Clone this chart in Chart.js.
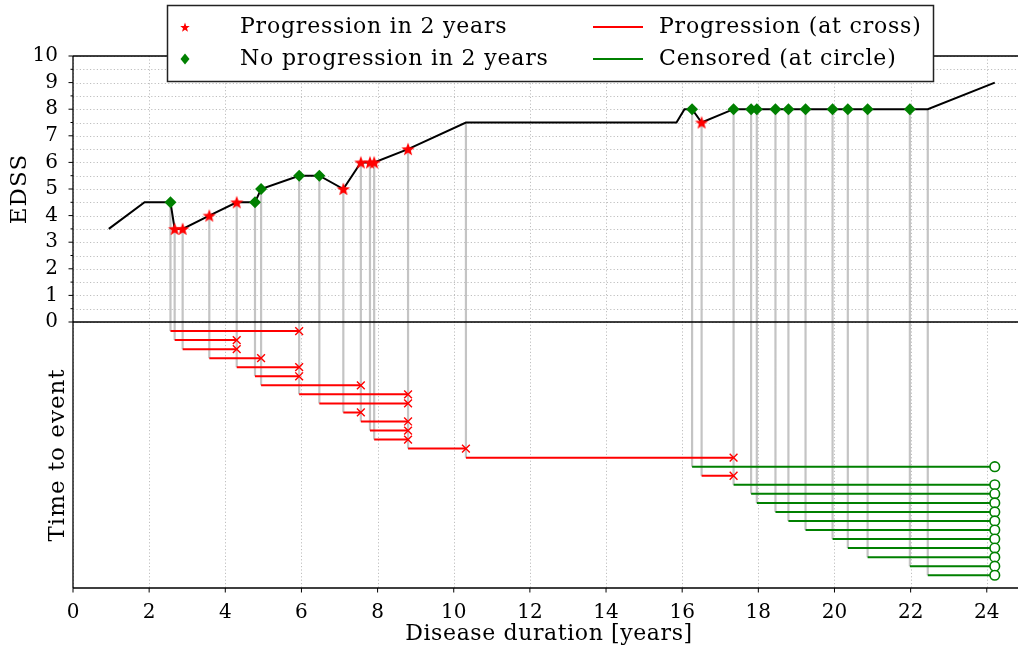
<!DOCTYPE html>
<html>
<head>
<meta charset="utf-8">
<script src="https://cdn.jsdelivr.net/npm/chart.js@4.4.1/dist/chart.umd.min.js"></script>
<style>
  html, body { margin: 0; padding: 0; background: #ffffff; }
  #wrap { width: 1018px; height: 650px; position: relative; }
</style>
</head>
<body>
<div id="wrap"><canvas id="chart"></canvas></div>
<script>
// EDSS trajectory: visit time [years] and EDSS score at that visit
const visitYears = [0.94, 1.88, 2.56, 2.67, 2.88, 3.58, 4.30, 4.78, 4.94, 5.94, 6.47, 7.10, 7.56, 7.80, 7.91, 8.80,
                    10.32, 15.85, 16.06, 16.26, 16.51, 17.35, 17.81, 17.96, 18.45, 18.79, 19.24, 19.95, 20.35, 20.87,
                    21.98, 22.45, 24.21];
const edssScores = [3.5, 4.5, 4.5, 3.5, 3.5, 4.0, 4.5, 4.5, 5.0, 5.5, 5.5, 5.0, 6.0, 6.0, 6.0, 6.5,
                    7.5, 7.5, 8.0, 8.0, 7.5, 8.0, 8.0, 8.0, 8.0, 8.0, 8.0, 8.0, 8.0, 8.0,
                    8.0, 8.0, 9.0];

// Baseline visits by outcome class
const progressionYears = [2.67, 2.88, 3.58, 4.30, 7.10, 7.56, 7.80, 7.91, 8.80, 16.51];
const noProgressionYears = [2.56, 4.78, 4.94, 5.94, 6.47, 16.26, 17.35, 17.81, 17.96, 18.45, 18.79, 19.24,
                            19.95, 20.35, 20.87, 21.98];

// Time-to-event rows (top to bottom): baseline, end of follow-up, outcome (1 = progression, 0 = censored)
const rowStart = [2.56, 2.67, 2.88, 3.58, 4.30, 4.78, 4.94, 5.94, 6.47, 7.10, 7.56, 7.80, 7.91, 8.80,
                  10.32, 16.26, 16.51, 17.35, 17.81, 17.96, 18.45, 18.79, 19.24, 19.95, 20.35, 20.87, 21.98, 22.45];
const rowEnd   = [5.94, 4.30, 4.30, 4.94, 5.94, 5.94, 7.56, 8.80, 8.80, 7.56, 8.80, 8.80, 8.80, 10.32,
                  17.35, 24.21, 17.35, 24.21, 24.21, 24.21, 24.21, 24.21, 24.21, 24.21, 24.21, 24.21, 24.21, 24.21];
const rowEvent = [1, 1, 1, 1, 1, 1, 1, 1, 1, 1, 1, 1, 1, 1,
                  1, 0, 1, 0, 0, 0, 0, 0, 0, 0, 0, 0, 0, 0];

// Axis ticks
const xTickValues = [0, 2, 4, 6, 8, 10, 12, 14, 16, 18, 20, 22, 24];
const yTickValues = [0, 1, 2, 3, 4, 5, 6, 7, 8, 9, 10];

const ROW_STEP = 0.34;          // vertical spacing of the time-to-event rows (axis units)
const FONT = "'DejaVu Serif', serif";
const RED = '#ff0000';
const GREEN = '#008000';

const edssAt = t => edssScores[visitYears.indexOf(t)];
const rowY = i => -(i + 1) * ROW_STEP;

// --- build plotted series ---------------------------------------------------
const trajectory = visitYears.map((t, i) => ({ x: t, y: edssScores[i] }));
const starPts = progressionYears.map(t => ({ x: t, y: edssAt(t) }));
const diamondPts = noProgressionYears.map(t => ({ x: t, y: edssAt(t) }));

const dropLines = [];
const progLines = [];
const censLines = [];
const crossPts = [];
const circlePts = [];
rowStart.forEach((t0, i) => {
  const y = rowY(i);
  dropLines.push({ x: t0, y: edssAt(t0) }, { x: t0, y: y }, { x: t0, y: null });
  const seg = rowEvent[i] ? progLines : censLines;
  seg.push({ x: t0, y: y }, { x: rowEnd[i], y: y }, { x: rowEnd[i], y: null });
  (rowEvent[i] ? crossPts : circlePts).push({ x: rowEnd[i], y: y });
});

// filled five-pointed star used as a point style
function makeStar(r, color) {
  const size = Math.ceil(2 * r + 2);
  const c = document.createElement('canvas');
  c.width = size; c.height = size;
  const g = c.getContext('2d');
  g.fillStyle = color;
  g.beginPath();
  for (let k = 0; k < 10; k++) {
    const a = -Math.PI / 2 + k * Math.PI / 5;
    const rr = (k % 2) ? r * 0.42 : r;
    const px = size / 2 + rr * Math.cos(a);
    const py = size / 2 + 0.6 + rr * Math.sin(a);
    if (k === 0) g.moveTo(px, py); else g.lineTo(px, py);
  }
  g.closePath();
  g.fill();
  return c;
}
const starIcon = makeStar(7, RED);
const legendStar = makeStar(5, RED);

// text with a little extra tracking, closer to the original typesetting
function spacedText(ctx, text, x, y, spacing) {
  ctx.letterSpacing = spacing + 'px';
  ctx.fillText(text, x, y);
  ctx.letterSpacing = '0px';
}

// --- frame, grid, ticks, titles and legend ----------------------------------
const framePlugin = {
  id: 'frame',
  beforeDatasetsDraw(chart) {
    const { ctx, chartArea: a, scales: { x, y } } = chart;
    ctx.save();
    ctx.strokeStyle = '#b8b8b8';
    ctx.lineWidth = 0.9;
    ctx.setLineDash([1.2, 2.2]);
    xTickValues.forEach(v => {
      const px = Math.round(x.getPixelForValue(v)) + 0.5;
      ctx.beginPath(); ctx.moveTo(px, a.top); ctx.lineTo(px, a.bottom); ctx.stroke();
    });
    for (let v = yTickValues[0]; v <= yTickValues[yTickValues.length - 1]; v += 0.5) {
      const py = Math.round(y.getPixelForValue(v)) + 0.5;
      ctx.beginPath(); ctx.moveTo(a.left, py); ctx.lineTo(a.right, py); ctx.stroke();
    }
    ctx.restore();
  },
  afterDatasetsDraw(chart) {
    const { ctx, chartArea: a, scales: { x, y } } = chart;
    ctx.save();
    ctx.strokeStyle = '#000';
    ctx.lineWidth = 1.3;
    ctx.setLineDash([]);
    const y0 = y.getPixelForValue(0);
    ctx.beginPath();
    ctx.moveTo(a.left, y0); ctx.lineTo(a.right, y0);          // zero line
    ctx.moveTo(a.left, a.top); ctx.lineTo(a.right, a.top);    // top spine
    ctx.moveTo(a.left, a.top); ctx.lineTo(a.left, a.bottom);  // left spine
    ctx.moveTo(a.left, a.bottom); ctx.lineTo(a.right, a.bottom); // bottom spine
    ctx.stroke();
    // y tick marks: major at integers, minor at halves
    ctx.lineWidth = 1;
    for (let v = yTickValues[0]; v <= yTickValues[yTickValues.length - 1]; v += 0.5) {
      const py = y.getPixelForValue(v);
      const len = Number.isInteger(v) ? 4.5 : 2.5;
      ctx.beginPath(); ctx.moveTo(a.left - len, py); ctx.lineTo(a.left, py); ctx.stroke();
    }
    xTickValues.forEach(v => {
      const px = x.getPixelForValue(v);
      ctx.beginPath(); ctx.moveTo(px, a.bottom); ctx.lineTo(px, a.bottom + 4.5); ctx.stroke();
    });
    ctx.restore();
  },
  afterDraw(chart) {
    const { ctx, chartArea: a, scales: { y } } = chart;
    ctx.save();
    ctx.fillStyle = '#000';
    ctx.textAlign = 'center';
    ctx.textBaseline = 'middle';
    // axis titles
    ctx.font = '22px ' + FONT;
    spacedText(ctx, 'Disease duration [years]', 549, 634, 0.6);
    const yTop = (y.getPixelForValue(10) + y.getPixelForValue(0)) / 2;
    const yBot = (y.getPixelForValue(0) + y.getPixelForValue(-10)) / 2;
    ctx.font = '23px ' + FONT;
    ctx.save(); ctx.translate(20, yTop); ctx.rotate(-Math.PI / 2); spacedText(ctx, 'EDSS', 0, 0, 1); ctx.restore();
    ctx.save(); ctx.translate(58, yBot); ctx.rotate(-Math.PI / 2); spacedText(ctx, 'Time to event', 0, 0, 1); ctx.restore();

    // legend box
    ctx.fillStyle = '#fff';
    ctx.fillRect(167, 5, 767, 77);
    ctx.strokeStyle = '#222';
    ctx.lineWidth = 1.5;
    ctx.strokeRect(167.5, 5.5, 766, 76);
    const r1 = 27, r2 = 59;
    ctx.drawImage(legendStar, 185 - legendStar.width / 2, r1 - legendStar.height / 2);
    ctx.fillStyle = GREEN;
    ctx.beginPath();
    ctx.moveTo(185, r2 - 5.5); ctx.lineTo(189.5, r2); ctx.lineTo(185, r2 + 5.5); ctx.lineTo(180.5, r2);
    ctx.closePath(); ctx.fill();
    ctx.lineWidth = 2;
    ctx.strokeStyle = RED;
    ctx.beginPath(); ctx.moveTo(593, r1); ctx.lineTo(643, r1); ctx.stroke();
    ctx.strokeStyle = GREEN;
    ctx.beginPath(); ctx.moveTo(593, r2); ctx.lineTo(643, r2); ctx.stroke();
    ctx.fillStyle = '#000';
    ctx.textAlign = 'left';
    ctx.font = '22px ' + FONT;
    spacedText(ctx, 'Progression in 2 years', 240, r1, 0.8);
    spacedText(ctx, 'No progression in 2 years', 240, r2, 0.8);
    spacedText(ctx, 'Progression (at cross)', 659, r1, 0.8);
    spacedText(ctx, 'Censored (at circle)', 659, r2, 0.8);
    ctx.restore();
  }
};

const lineDefaults = { showLine: true, pointRadius: 0, spanGaps: false, fill: false, tension: 0 };

new Chart(document.getElementById('chart'), {
  type: 'scatter',
  data: {
    datasets: [
      { label: 'Progression in 2 years', data: starPts, pointStyle: starIcon, pointRadius: 7, order: 1 },
      { label: 'No progression in 2 years', data: diamondPts, pointStyle: 'rectRot', pointRadius: 6,
        backgroundColor: GREEN, borderColor: GREEN, borderWidth: 0, order: 2 },
      { label: 'progression cross', data: crossPts, pointStyle: 'crossRot', pointRadius: 5.5,
        borderColor: RED, borderWidth: 1.4, order: 3 },
      { label: 'censored circle', data: circlePts, pointStyle: 'circle', pointRadius: 4.8,
        backgroundColor: '#fff', borderColor: GREEN, borderWidth: 1.6, order: 4 },
      { label: 'EDSS', data: trajectory, ...lineDefaults, borderColor: '#000', borderWidth: 2, order: 5 },
      { label: 'Progression (at cross)', data: progLines, ...lineDefaults, borderColor: RED, borderWidth: 2, order: 6 },
      { label: 'Censored (at circle)', data: censLines, ...lineDefaults, borderColor: GREEN, borderWidth: 2, order: 7 },
      { label: 'baseline link', data: dropLines, ...lineDefaults, borderColor: '#c4c4c4', borderWidth: 2.2, order: 8 }
    ]
  },
  options: {
    responsive: true,
    maintainAspectRatio: false,
    animation: false,
    events: [],
    layout: { autoPadding: false, padding: { top: 56, right: 0, bottom: 0, left: 0 } },
    plugins: { legend: { display: false }, tooltip: { enabled: false } },
    scales: {
      x: {
        type: 'linear', min: 0, max: 24.82,
        afterBuildTicks: s => { s.ticks = xTickValues.map(v => ({ value: v })); },
        afterFit: s => { s.height = 62; s.paddingLeft = 0; s.paddingRight = 0; },
        grid: { display: false },
        border: { display: false },
        ticks: { color: '#000', font: { family: FONT, size: 20 }, padding: 5, maxRotation: 0, autoSkip: false }
      },
      y: {
        type: 'linear', min: -10, max: 10,
        afterBuildTicks: s => { s.ticks = yTickValues.map(v => ({ value: v })); },
        afterFit: s => { s.width = 73; s.paddingTop = 0; s.paddingBottom = 0; },
        grid: { display: false },
        border: { display: false },
        ticks: { color: '#000', font: { family: FONT, size: 20 }, padding: 7, autoSkip: false }
      }
    }
  },
  plugins: [framePlugin]
});
</script>
</body>
</html>
